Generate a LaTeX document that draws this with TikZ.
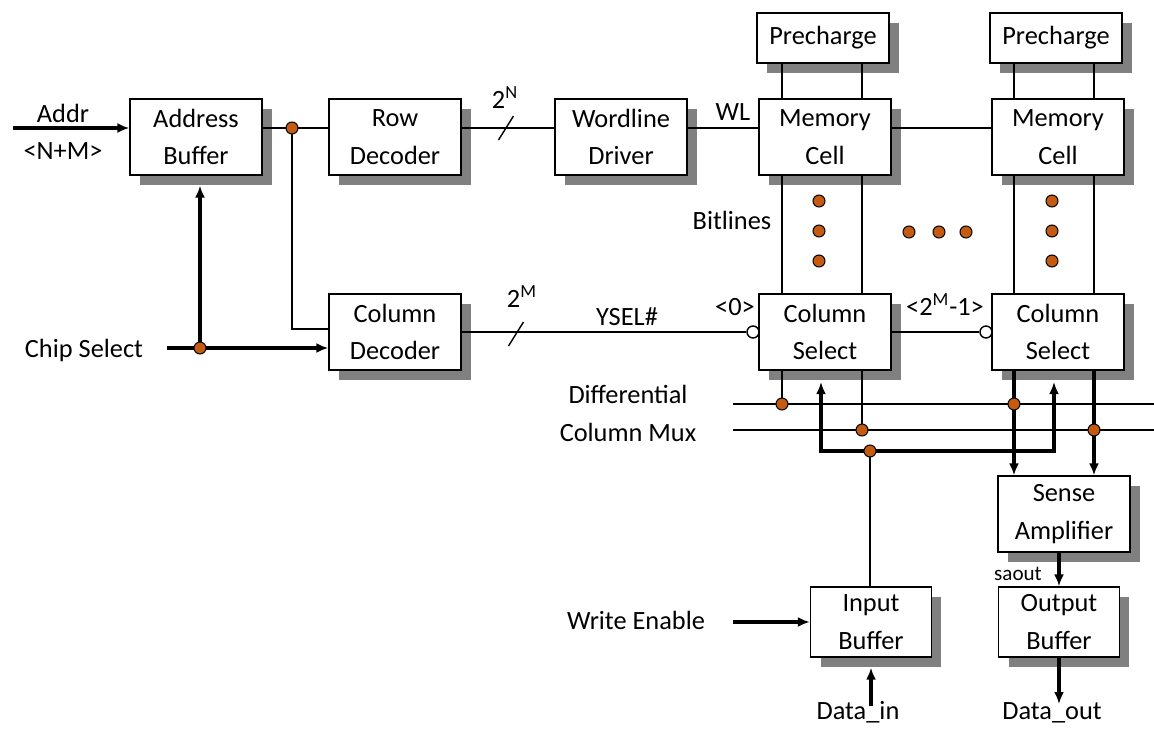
\documentclass[tikz,border=0pt]{standalone}
\usepackage{fontspec}
\setmainfont{Carlito}
\usetikzlibrary{arrows.meta,shadows,positioning}

\definecolor{shadegray}{RGB}{128,128,128}
\definecolor{nodeorange}{RGB}{197,90,17}

\begin{document}
\begin{tikzpicture}[
    x=0.02cm, y=-0.02cm,
    font=\fontsize{15}{21.5}\selectfont,
    block/.style={draw, fill=white, line width=0.8pt, minimum width=2.64cm, minimum height=1.52cm,
        inner sep=0pt, align=center,
        drop shadow={shadow xshift=0.2cm, shadow yshift=-0.2cm, fill=shadegray, opacity=1}},
    lowblock/.style={block, minimum height=1cm},
    bufblock/.style={block, minimum width=2.42cm, minimum height=1.4cm},
    wire/.style={line width=0.8pt},
    bus/.style={line width=1.8pt, -{Latex[length=2.4mm, width=2mm]}},
    joint/.style={circle, draw, line width=0.6pt, fill=nodeorange, minimum size=0.24cm, inner sep=0pt},
    bubble/.style={circle, draw, line width=0.8pt, fill=white, minimum size=0.24cm, inner sep=0pt},
    lbl/.style={anchor=base, inner sep=0pt}
]
\useasboundingbox (0,0) rectangle (1154,728);

% Address path
\node[block] (addrbuf) at (196,137) {Address\\Buffer};
\node[block] (rowdec) at (395,137) {Row\\Decoder};
\node[block] (wldrv) at (621,137) {Wordline\\Driver};
\node[block] (coldec) at (395,332) {Column\\Decoder};

% Array columns
\node[lowblock] (pre1) at (823,38) {Precharge};
\node[block] (mem1) at (825,137) {Memory\\Cell};
\node[block] (colsel1) at (825,332) {Column\\Select};
\node[lowblock] (pre2) at (1056,38) {Precharge};
\node[block] (mem2) at (1058,137) {Memory\\Cell};
\node[block] (colsel2) at (1058,332) {Column\\Select};

% Data path
\node[block] (sense) at (1064,514) {Sense\\Amplifier};
\node[bufblock] (outbuf) at (1059,622) {Output\\Buffer};
\node[bufblock] (inbuf) at (871,622) {Input\\Buffer};

% Labels
\node[lbl] (addrlbl) at (63,122) {Addr};
\node[lbl] (nmlbl) at (63,159) {<N+M>};
\node[lbl] (cslbl) at (84,357) {Chip Select};
\node[lbl] (nlbl) at (505,108) {2\textsuperscript{N}};
\node[lbl] (mlbl) at (522,307) {2\textsuperscript{M}};
\node[lbl] (wllbl) at (733,120) {WL};
\node[lbl] (bllbl) at (732,229) {Bitlines};
\node[lbl] (zerolbl) at (735,315) {<0>};
\node[lbl] (lastlbl) at (945,315) {<2\textsuperscript{M}-1>};
\node[lbl] (ysellbl) at (627,325) {YSEL\#};
\node[lbl] (difflbl) at (628,403) {Differential};
\node[lbl] (muxlbl) at (628,441) {Column Mux};
\node[lbl] (welbl) at (636,629) {Write Enable};
\node[lbl, font=\fontsize{12}{14}\selectfont] (saoutlbl) at (1018,580) {saout};
\node[lbl] (dinlbl) at (858,719) {Data\_in};
\node[lbl] (doutlbl) at (1052,719) {Data\_out};

% Junctions and free ends
\coordinate (addrin) at (13,128);
\coordinate (j1) at (292,128);
\coordinate (csin) at (167,348);
\coordinate (j2) at (200,348);
\coordinate (abshadow) at ([yshift=-0.2cm]addrbuf.south);
\coordinate (bl1a) at (782,0);
\coordinate (bl1b) at (862,0);
\coordinate (bl2a) at (1014,0);
\coordinate (bl2b) at (1094,0);
\coordinate (muxa) at (733,404);
\coordinate (muxb) at (733,430);
\coordinate (muxend) at (1154,0);
\coordinate (wrj) at (870,451);
\coordinate (cs1in) at (821,382);
\coordinate (cs2in) at (1054,382);
\coordinate (wein) at (733,622);
\coordinate (dinstart) at (871,706);
\coordinate (doutend) at (1059,704);

% Address and select wiring
\draw[bus] (addrin) -- (addrbuf.west |- addrin);
\draw[wire] (addrbuf.east |- j1) -- (rowdec.west |- j1);
\draw[wire] (j1) |- ([yshift=0.06cm]coldec.west);
\draw[bus] (csin) -- (coldec.west |- csin);
\draw[bus] (j2) -- (j2 |- abshadow);
\draw[wire] (rowdec.east |- j1) -- (wldrv.west |- j1);
\draw[wire] (506,128) +(-7.5,12) -- +(7.5,-12);
\draw[wire] (wldrv.east |- j1) -- (mem1.west |- j1);
\draw[wire] (mem1.east |- j1) -- (mem2.west |- j1);

% YSEL
\node[bubble] (yb1) at (753,332) {};
\node[bubble] (yb2) at (986,332) {};
\draw[wire] (coldec.east) -- (yb1);
\draw[wire] (516,334) +(-7.5,12) -- +(7.5,-12);
\draw[wire] (colsel1.east) -- (yb2);

% Bitlines
\foreach \c/\b in {1/a,1/b,2/a,2/b} {
  \draw[wire] (pre\c.south -| bl\c\b) -- (mem\c.north -| bl\c\b);
  \draw[wire] (mem\c.south -| bl\c\b) -- (colsel\c.north -| bl\c\b);
}

% Column mux
\draw[wire] (muxa) -- (muxa -| muxend);
\draw[wire] (muxb) -- (muxb -| muxend);
\draw[wire] (colsel1.south -| bl1a) -- (muxa -| bl1a);
\draw[wire] (colsel1.south -| bl1b) -- (muxb -| bl1b);
\draw[bus] (colsel2.south -| bl2a) -- (sense.north -| bl2a);
\draw[bus] (colsel2.south -| bl2b) -- (sense.north -| bl2b);
\draw[bus] (wrj) -| (cs1in);
\draw[bus] (wrj) -| (cs2in);
\draw[wire] (wrj) -- (inbuf.north -| wrj);

% In/out
\draw[bus] (wein) -- (inbuf.west);
\draw[bus] (dinstart) -- ([yshift=-0.2cm]inbuf.south);
\draw[bus] (sense.south -| outbuf.north) -- (outbuf.north);
\draw[bus] (outbuf.south) -- (doutend);

% Dots
\foreach \p [count=\i] in {j1, j2, wrj, muxa -| bl1a, muxb -| bl1b, muxa -| bl2a, muxb -| bl2b}
  \node[joint] (jd\i) at (\p) {};
\foreach \y [count=\i] in {201,231,261} {
  \node[joint] (vda\i) at (819,\y) {};
  \node[joint] (vdb\i) at (1052,\y) {};
}
\foreach \x [count=\i] in {909,939,966}
  \node[joint] (hd\i) at (\x,232) {};
\end{tikzpicture}
\end{document}
